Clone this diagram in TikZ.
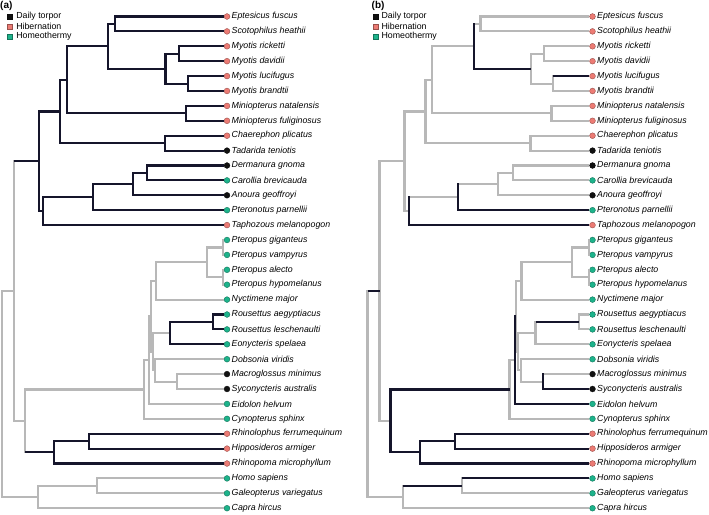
\documentclass[tikz,border=0pt]{standalone}
\usepackage{fontspec}
\setmainfont{Liberation Sans}
\usetikzlibrary{positioning}
\definecolor{brgray}{HTML}{B8B8B8}
\definecolor{brdark}{HTML}{15152B}
\definecolor{torcol}{HTML}{111111}
\definecolor{hibcol}{HTML}{EC7B74}
\definecolor{homcol}{HTML}{1DB38B}
\tikzset{
  vbranch/.style={draw=brgray, line width=2.1pt, line cap=rect},
  hbranch/.style={draw=brgray, line width=2.1pt},
  darkbr/.style={draw=brdark},
  tip/.style={circle, inner sep=0pt, minimum size=5.8pt, line width=0.4pt, fill=#1col, draw=#1col!65!black},
  taxon/.style={font=\fontsize{8.8}{10}\selectfont\itshape, inner sep=1.4pt},
  legsq/.style={rectangle, inner sep=0pt, minimum size=4.8pt, line width=0.4pt, fill=#1col, draw=#1col!65!black},
  legtxt/.style={font=\fontsize{8.8}{10}\selectfont, inner sep=0pt},
  panellab/.style={font=\fontsize{10}{12}\selectfont\bfseries, inner sep=0pt, anchor=base west}
}
\newcommand{\rowy}[1]{16.5+14.9*(#1)}
% bar at a node, then its two branches
\newcommand{\cladebr}[4][]{%
  \draw[vbranch,#1] (#2|-#3) -- (#2|-#4);
  \draw[hbranch,#1] (#2|-#3) -- (#3);
  \draw[hbranch,#1] (#2|-#4) -- (#4);}
\newcommand{\barbr}[4][]{\draw[vbranch,#1] (#2|-#3) -- (#2|-#4);}
\newcommand{\edgebr}[3][]{\draw[hbranch,#1] (#2|-#3) -- (#3);}
\newcommand{\legendat}[2]{%
  \foreach \st/\txt [count=\j] in {tor/Daily torpor, hib/Hibernation, hom/Homeothermy}{
    \node[legsq=\st] (sq#1\st) at (#2,{6.9+9.8*\j}) {};
    \node[legtxt, right=3.5pt of sq#1\st] (lt#1\st) {\txt};
  }}
\newcommand{\battree}{%
  % tips
  \foreach \n/\st/\lab [count=\i from 0] in {
      eptfus/hib/Eptesicus fuscus, scohea/hib/Scotophilus heathii,
      myoric/hib/Myotis ricketti, myodav/hib/Myotis davidii,
      myoluc/hib/Myotis lucifugus, myobra/hib/Myotis brandtii,
      minnat/hib/Miniopterus natalensis, minful/hib/Miniopterus fuliginosus,
      chapli/hib/Chaerephon plicatus, tadten/tor/Tadarida teniotis,
      dergno/tor/Dermanura gnoma, carbre/hom/Carollia brevicauda,
      anogeo/tor/Anoura geoffroyi, ptepar/hom/Pteronotus parnellii,
      tapmel/hib/Taphozous melanopogon, ptegig/hom/Pteropus giganteus,
      ptevam/hom/Pteropus vampyrus, pteale/hom/Pteropus alecto,
      ptehyp/hom/Pteropus hypomelanus, nycmaj/hom/Nyctimene major,
      rouaeg/hom/Rousettus aegyptiacus, roules/hom/Rousettus leschenaulti,
      eonspe/hom/Eonycteris spelaea, dobvir/hom/Dobsonia viridis,
      macmin/tor/Macroglossus minimus, sycaus/tor/Syconycteris australis,
      eidhel/hom/Eidolon helvum, cynsph/hom/Cynopterus sphinx,
      rhifer/hib/Rhinolophus ferrumequinum, hiparm/hib/Hipposideros armiger,
      rhimic/hib/Rhinopoma microphyllum, homsap/hom/Homo sapiens,
      galvar/hom/Galeopterus variegatus, caphir/hom/Capra hircus}
    \node[tip=\st, label={[taxon]right:\lab}] (\n) at (227,{\rowy{\i}}) {};
  % internal nodes: name/depth/row
  \foreach \n/\x/\k in {
      R/2/25.33984, A/14/18.42969, Y/39/9.71875, YA/60/6.375, VM/66.7/4.25,
      V/108.3/2, ES/115/0.5, M/165.5/3.5, MR/178.8/2.5, ML/187.7/4.5,
      Mi/186/6.5, Mo/165/8.5, NT/43.3/13.0625, No/92.7/12.125,
      Ph/132.7/11.25, DC/147.3/10.5, P/25/27.14063, Pt/144/25.03125,
      X1/149.3/23.0625, X2/150.7/20.125, PN/156/17.75, P4/206.7/16.5,
      PGV/223.3/15.5, PAH/223.3/17.5, X3/152.7/22.5, RE/170/21.25,
      R2/213.3/20.5, X5/155.3/23.75, MS/177.3/24.5, Rh/54.3/29.25,
      RH/89.3/28.5, O/37.7/32.25, HG/96.7/31.5}
    \coordinate (\n) at (\x,{\rowy{\k}});
  % all branches grey first
  \foreach \n/\a/\b in {
      R/A/O, A/Y/P, Y/YA/NT, YA/VM/Mo, VM/V/Mi, V/ES/M, ES/eptfus/scohea,
      M/MR/ML, MR/myoric/myodav, ML/myoluc/myobra, Mi/minnat/minful,
      Mo/chapli/tadten, NT/No/tapmel, No/Ph/ptepar, Ph/DC/anogeo,
      DC/dergno/carbre, P/Pt/Rh, Pt/X1/cynsph, X1/X2/eidhel, X2/PN/X3,
      PN/P4/nycmaj, P4/PGV/PAH, PGV/ptegig/ptevam, PAH/pteale/ptehyp,
      X3/RE/X5, RE/R2/eonspe, R2/rouaeg/roules, X5/dobvir/MS,
      MS/macmin/sycaus, Rh/RH/rhimic, RH/rhifer/hiparm, O/HG/caphir,
      HG/homsap/galvar}
    {\cladebr{\n}{\a}{\b}}
}

\begin{document}
\begin{tikzpicture}[x=1pt, y=-1pt]
  \useasboundingbox (0,0) rectangle (709,514);

  % (a)
  \node[panellab] (laba) at (0,8.5) {(a)};
  \legendat{a}{10}
  \begin{scope}[name prefix=a-]
    \battree
    \foreach \n/\a/\b in {Y/YA/NT, YA/VM/Mo, VM/V/Mi, V/ES/M, ES/eptfus/scohea,
        M/MR/ML, MR/myoric/myodav, ML/myoluc/myobra, Mi/minnat/minful,
        Mo/chapli/tadten, NT/No/tapmel, No/Ph/ptepar, Ph/DC/anogeo,
        DC/dergno/carbre, Rh/RH/rhimic, RH/rhifer/hiparm, RE/R2/eonspe,
        R2/rouaeg/roules}
      {\cladebr[darkbr]{\n}{\a}{\b}}
    \edgebr[darkbr]{A}{Y}
    \edgebr[darkbr]{P}{Rh}
  \end{scope}

  % (b)
  \node[panellab] (labb) at (371.5,8.5) {(b)};
  \legendat{b}{375.3}
  \begin{scope}[shift={(365.5,0)}, name prefix=b-]
    \battree
    \foreach \n/\a/\b in {P/Pt/Rh, Rh/RH/rhimic, RH/rhifer/hiparm}
      {\cladebr[darkbr]{\n}{\a}{\b}}
    \foreach \n/\a/\b in {V/ES/M, NT/No/tapmel, No/Ph/ptepar, X1/X2/eidhel, MS/macmin/sycaus}
      {\barbr[darkbr]{\n}{\a}{\b}}
    \foreach \n/\c in {R/A, V/M, ML/myoluc, NT/tapmel, No/ptepar, X1/eidhel,
        MS/sycaus, RE/R2, O/HG, HG/homsap}
      {\edgebr[darkbr]{\n}{\c}}
  \end{scope}
\end{tikzpicture}
\end{document}
